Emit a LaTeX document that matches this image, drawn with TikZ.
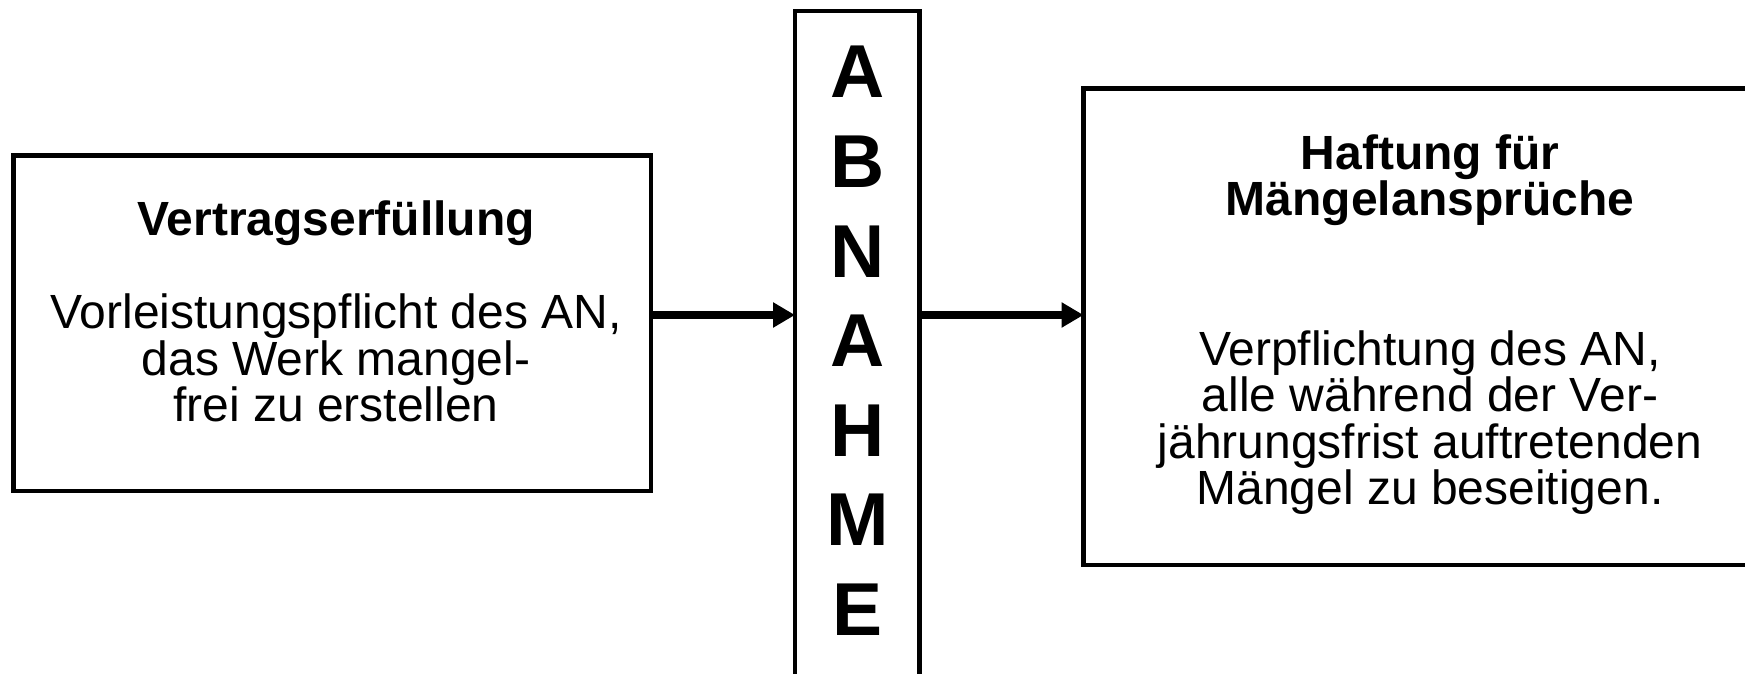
\documentclass[tikz,border=0pt]{standalone}
\usepackage{fontspec}
\setmainfont{Liberation Sans}
\usetikzlibrary{arrows.meta}
\begin{document}
\begin{tikzpicture}[x=1pt,y=-1pt,
  box/.style={draw=black,line width=4.5pt,inner sep=0pt,outer sep=0pt,rectangle},
  txt/.style={anchor=base,inner sep=0pt,font=\fontsize{48}{48}\selectfont},
  head/.style={anchor=base,inner sep=0pt,font=\fontsize{48}{48}\selectfont\bfseries},
  letter/.style={anchor=base,inner sep=0pt,font=\fontsize{75}{75}\selectfont\bfseries},
  conn/.style={line width=8pt,-{Triangle[length=22pt,width=24pt]}}]
\useasboundingbox (0,0) rectangle (1745,674);
\node[box,minimum width=637.5pt,minimum height=335.5pt] (left) at (332.25,323.25) {};
\node[box,minimum width=124.5pt,minimum height=709pt] (mid) at (857.25,365.5) {};
\node[box,minimum width=693pt,minimum height=476.5pt] (right) at (1430,326.75) {};
\coordinate (ay) at (0,315);
\draw[conn] (left.east |- ay) -- (mid.west |- ay);
\draw[conn] (mid.east |- ay) -- (right.west |- ay);
% left texts
\node[head] (l1) at (336,235) {Vertragserfüllung};
\node[txt] (l2) at (336,328) {Vorleistungspflicht des AN,};
\node[txt] (l3) at (336,375) {das Werk mangel-};
\node[txt] (l4) at (336,421) {frei zu erstellen};
% middle letters
\node[letter] (m1) at (857.25,98) {A};
\node[letter] (m2) at (857.25,187.5) {B};
\node[letter] (m3) at (857.25,277) {N};
\node[letter] (m4) at (857.25,366.5) {A};
\node[letter] (m5) at (857.25,456) {H};
\node[letter] (m6) at (857.25,545.5) {M};
\node[letter] (m7) at (857.25,635) {E};
% right texts
\node[head] (r1) at (1430,169) {Haftung für};
\node[head] (r2) at (1430,215) {Mängelansprüche};
\node[txt] (r3) at (1430,365) {Verpflichtung des AN,};
\node[txt] (r4) at (1430,411) {alle während der Ver-};
\node[txt] (r5) at (1430,458) {jährungsfrist auftretenden};
\node[txt] (r6) at (1430,504) {Mängel zu beseitigen.};
\end{tikzpicture}
\end{document}
